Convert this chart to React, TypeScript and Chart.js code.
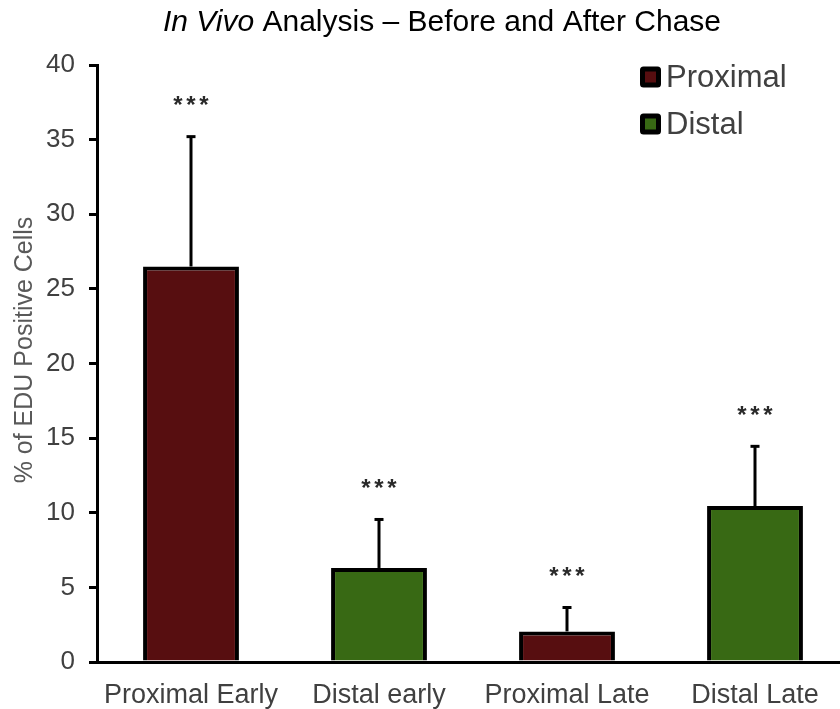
import React, { useEffect, useRef } from "react";
import { Chart, registerables } from "chart.js";

Chart.register(...registerables);

const categories = ["Proximal Early", "Distal early", "Proximal Late", "Distal Late"];
const seriesNames = ["Proximal", "Distal"];
const proximalValues: (number | null)[] = [26.5, null, 2.05, null];
const distalValues: (number | null)[] = [null, 6.3, null, 10.45];
const errorTops = [35.2, 9.55, 3.65, 14.45];
const barValues = [26.5, 6.3, 2.05, 10.45];
const significance = ["***", "***", "***", "***"];
const yTickValues = [0, 5, 10, 15, 20, 25, 30, 35, 40];
const titleItalic = "In Vivo";
const titleRest = " Analysis \u2013 Before and After Chase";
const yAxisTitle = "% of EDU Positive Cells";

const PROX_COLOR = "#570e10";
const DIST_COLOR = "#386914";
const FONT = "'Liberation Sans', Arial, Helvetica, sans-serif";

function roundRect(ctx: any, x: number, y: number, w: number, h: number, r: number) {
  ctx.beginPath();
  ctx.moveTo(x + r, y);
  ctx.lineTo(x + w - r, y);
  ctx.quadraticCurveTo(x + w, y, x + w, y + r);
  ctx.lineTo(x + w, y + h - r);
  ctx.quadraticCurveTo(x + w, y + h, x + w - r, y + h);
  ctx.lineTo(x + r, y + h);
  ctx.quadraticCurveTo(x, y + h, x, y + h - r);
  ctx.lineTo(x, y + r);
  ctx.quadraticCurveTo(x, y, x + r, y);
  ctx.closePath();
}

const overlayPlugin = {
  id: "overlay",
  afterDatasetsDraw(chart: any) {
    const ctx = chart.ctx;
    const xs = chart.scales.x;
    const ys = chart.scales.y;
    ctx.save();
    ctx.strokeStyle = "#000";
    ctx.lineWidth = 3;
    errorTops.forEach((e, i) => {
      const x = xs.getPixelForValue(i);
      const yTop = ys.getPixelForValue(barValues[i]);
      const yErr = ys.getPixelForValue(e);
      ctx.beginPath();
      ctx.moveTo(x, yTop);
      ctx.lineTo(x, yErr);
      ctx.stroke();
      ctx.beginPath();
      ctx.moveTo(x - 4.5, yErr);
      ctx.lineTo(x + 4.5, yErr);
      ctx.stroke();
      ctx.fillStyle = "#2a2a2a";
      ctx.font = `bold 24px ${FONT}`;
      ctx.textAlign = "center";
      ctx.textBaseline = "middle";
      const chars = significance[i].split("");
      const gap = 13;
      chars.forEach((c, k) => {
        ctx.fillText(c, x + (k - (chars.length - 1) / 2) * gap, yErr - 30);
      });
    });
    ctx.restore();
  },
  afterDraw(chart: any) {
    const ctx = chart.ctx;
    ctx.save();
    // title
    ctx.fillStyle = "#000";
    ctx.textBaseline = "middle";
    ctx.textAlign = "left";
    const fItal = `italic 30px ${FONT}`;
    const fNorm = `30px ${FONT}`;
    ctx.font = fItal;
    const w1 = ctx.measureText(titleItalic).width;
    ctx.font = fNorm;
    const w2 = ctx.measureText(titleRest).width;
    const sx = 442 - (w1 + w2) / 2;
    ctx.font = fItal;
    ctx.fillText(titleItalic, sx, 23);
    ctx.font = fNorm;
    ctx.fillText(titleRest, sx + w1, 23);
    // y axis title
    ctx.save();
    ctx.translate(25, 350);
    ctx.rotate(-Math.PI / 2);
    ctx.textAlign = "center";
    ctx.textBaseline = "middle";
    ctx.fillStyle = "#595959";
    ctx.font = `25px ${FONT}`;
    ctx.fillText(yAxisTitle, 0, 0);
    ctx.restore();
    // legend
    const items = [
      { label: seriesNames[0], color: PROX_COLOR, y: 77 },
      { label: seriesNames[1], color: DIST_COLOR, y: 124 },
    ];
    items.forEach((it) => {
      ctx.fillStyle = "#000";
      roundRect(ctx, 640, it.y - 10.5, 21, 21, 3.5);
      ctx.fill();
      ctx.fillStyle = it.color;
      ctx.fillRect(645, it.y - 5.5, 11, 11);
      ctx.fillStyle = "#404040";
      ctx.font = `31px ${FONT}`;
      ctx.textAlign = "left";
      ctx.textBaseline = "middle";
      ctx.fillText(it.label, 666, it.y + 1);
    });
    ctx.restore();
  },
};

export default function App() {
  const ref = useRef<HTMLCanvasElement>(null);
  useEffect(() => {
    if (!ref.current) return;
    const chart = new Chart(ref.current, {
      type: "bar",
      data: {
        labels: categories,
        datasets: [
          {
            label: seriesNames[0],
            data: proximalValues,
            backgroundColor: PROX_COLOR,
            borderColor: "#000",
            borderWidth: 4,
            grouped: false,
            skipNull: true,
          } as any,
          {
            label: seriesNames[1],
            data: distalValues,
            backgroundColor: DIST_COLOR,
            borderColor: "#000",
            borderWidth: 4,
            grouped: false,
            skipNull: true,
          } as any,
        ],
      },
      options: {
        animation: false,
        responsive: false,
        devicePixelRatio: 1,
        layout: { padding: { top: 65, right: 11, left: 0, bottom: 0 } },
        datasets: { bar: { barPercentage: 0.51, categoryPercentage: 1 } } as any,
        plugins: { legend: { display: false }, title: { display: false }, tooltip: { enabled: false } },
        scales: {
          x: {
            grid: { display: false },
            border: { display: true, color: "#000", width: 3 },
            ticks: { color: "#404040", font: { family: FONT, size: 27 }, padding: 9 },
            afterFit: (s: any) => { s.height = 47; },
          },
          y: {
            min: 0,
            max: 40,
            afterBuildTicks: (s: any) => { s.ticks = yTickValues.map((v) => ({ value: v })); },
            grid: { display: true, drawOnChartArea: false, drawTicks: true, tickLength: 8, color: "#000", lineWidth: 3 },
            border: { display: true, color: "#000", width: 3 },
            ticks: { color: "#404040", font: { family: FONT, size: 26 }, padding: 14 },
            afterFit: (s: any) => { s.width = 97; },
          },
        },
      },
      plugins: [overlayPlugin],
    });
    return () => chart.destroy();
  }, []);
  return (
    <div style={{ position: "fixed", left: 0, top: 0, width: 840, height: 709, overflow: "hidden", background: "#fff" }}>
      <canvas ref={ref} width={860} height={709} style={{ display: "block" }} />
    </div>
  );
}
